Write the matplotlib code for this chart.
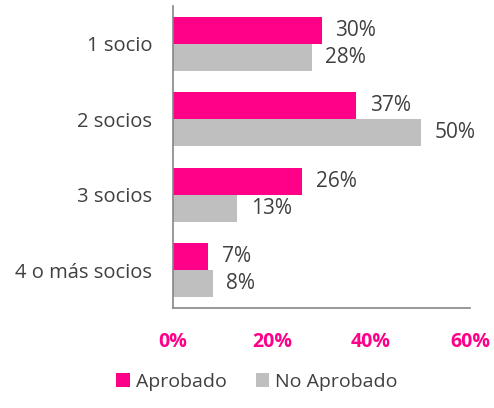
import numpy as np
import matplotlib.pyplot as plt

categories = ["1 socio", "2 socios", "3 socios", "4 o más socios"]
aprobado = [30, 37, 26, 7]
no_aprobado = [28, 50, 13, 8]
xticks = [0, 20, 40, 60]

pink = "#FF0088"
grey = "#BFBFBF"
txt = "#404040"

plt.rcParams["font.family"] = ["Open Sans", "DejaVu Sans"]

fig = plt.figure(figsize=(4.94, 4.08), dpi=100)
ax = fig.add_axes([173 / 494, 1 - 308 / 408, 297 / 494, 302 / 408])

y = np.arange(len(categories))
h = 0.36
b1 = ax.barh(y - h / 2, aprobado, height=h, color=pink, label="Aprobado")
b2 = ax.barh(y + h / 2, no_aprobado, height=h, color=grey, label="No Aprobado")

for bars, vals in ((b1, aprobado), (b2, no_aprobado)):
    ax.bar_label(bars, labels=[f"{v}%" for v in vals], padding=10,
                 fontsize=15, color=txt)

ax.set_ylim(len(categories) - 0.5, -0.5)
ax.set_xlim(0, 60)
ax.set_yticks(y)
ax.set_yticklabels(categories, fontsize=14.5, color=txt)
ax.set_xticks(xticks)
ax.set_xticklabels([f"{t}%" for t in xticks], fontsize=14, color=pink,
                   fontweight="bold")
ax.tick_params(axis="y", length=0, pad=15)
ax.tick_params(axis="x", length=0, pad=17)
for s in ("top", "right"):
    ax.spines[s].set_visible(False)
for s in ("left", "bottom"):
    ax.spines[s].set_color("#868686")
    ax.spines[s].set_linewidth(1.2)

fig.legend(handles=[b1, b2], loc="center", bbox_to_anchor=(0.52, 1 - 382 / 408),
           ncol=2, frameon=False, fontsize=14, labelcolor=txt,
           handlelength=0.7, handleheight=0.7, handletextpad=0.3,
           columnspacing=1.5)

fig.savefig("out.png", dpi=100)
